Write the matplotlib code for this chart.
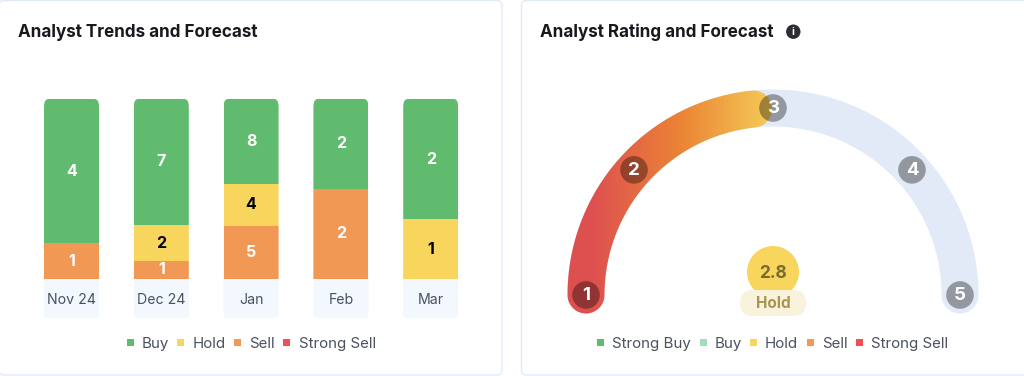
import numpy as np
import matplotlib
matplotlib.use("Agg")
import matplotlib.pyplot as plt
from matplotlib.colors import LinearSegmentedColormap
from matplotlib.patches import Circle, FancyBboxPatch, PathPatch, Rectangle
from matplotlib.path import Path

plt.rcParams['font.family'] = ['Inter', 'DejaVu Sans']

# data
months = ["Nov 24", "Dec 24", "Jan", "Feb", "Mar"]
buy = [4, 7, 8, 2, 2]
hold = [0, 2, 4, 0, 1]
sell = [1, 1, 5, 2, 0]
strong_sell = [0, 0, 0, 0, 0]
trend_legend = ["Buy", "Hold", "Sell", "Strong Sell"]
rating_legend = ["Strong Buy", "Buy", "Hold", "Sell", "Strong Sell"]
rating_steps = [1, 2, 3, 4, 5]
rating_score = 2.8
rating_label = "Hold"

GREEN = "#60BB6E"
LIGHT_GREEN = "#A3DDB8"
YELLOW = "#F8D65E"
ORANGE = "#F29855"
RED = "#EF5055"
TEXT = "#4A5160"
BORDER = "#E3EAF7"

W, H = 1024, 376
fig = plt.figure(figsize=(W / 100, H / 100), dpi=100, facecolor="white")

# page layer in pixel coordinates
bg = fig.add_axes([0, 0, 1, 1])
bg.set_xlim(0, W)
bg.set_ylim(H, 0)
bg.axis("off")


def round_box(ax, x0, y0, x1, y1, r, **kw):
    p = FancyBboxPatch((x0 + r, y0 + r), x1 - x0 - 2 * r, y1 - y0 - 2 * r,
                       boxstyle=f"round,pad={r},rounding_size={r}", **kw)
    ax.add_patch(p)
    return p


# cards
round_box(bg, -1, 0.5, 502, 375, 5, fc="white", ec=BORDER, lw=1)
round_box(bg, 521.5, 0.5, 1040, 375, 5, fc="white", ec=BORDER, lw=1)

bg.text(18, 32.5, "Analyst Trends and Forecast", fontsize=12.25, fontweight="bold",
        color="#17191E", va="center")
bg.text(540, 32.5, "Analyst Rating and Forecast", fontsize=12.25, fontweight="bold",
        color="#17191E", va="center")
bg.add_patch(Circle((793.3, 31.7), 7.2, fc="#2B2D33", ec="none"))
bg.text(793.3, 31.9, "i", fontsize=7.5, fontweight="bold", color="white",
        ha="center", va="center")

# stacked bars, each column scaled to its own total
BAR_LEFT, BAR_W, BAR_PITCH = 44, 55, 89.8
for i in range(len(months)):
    x0 = BAR_LEFT + i * BAR_PITCH
    round_box(bg, x0, 270, x0 + BAR_W, 318, 4, fc="#F3F7FE", ec="none")
    bg.text(x0 + BAR_W / 2, 304.5, months[i], fontsize=10.2, color=TEXT,
            ha="center", va="baseline")

left_px = BAR_LEFT
right_px = BAR_LEFT + 4 * BAR_PITCH + BAR_W
bar_ax = fig.add_axes([left_px / W, 1 - 279 / H, (right_px - left_px) / W, 180 / H])
bar_ax.set_xlim(-BAR_W / BAR_PITCH / 2, 4 + BAR_W / BAR_PITCH / 2)
bar_ax.set_ylim(0, 1)
bar_ax.axis("off")

stack = [(strong_sell, RED, "white"), (sell, ORANGE, "white"),
         (hold, YELLOW, "black"), (buy, GREEN, "white")]
totals = np.sum([s[0] for s in stack], axis=0)
bottom = np.zeros(len(months))
w = BAR_W / BAR_PITCH
clips = []
for i in range(len(months)):
    c = FancyBboxPatch((i - w / 2, -0.2), w, 1.2,
                       boxstyle="round,pad=0,rounding_size=0.05",
                       mutation_aspect=(H / 180) * 0.42, fc="none", ec="none")
    bar_ax.add_patch(c)
    clips.append(c)
for values, color, label_color in stack:
    share = np.array(values) / totals
    bars = bar_ax.bar(range(len(months)), share, w, bottom=bottom, color=color,
                      edgecolor="none")
    for i, b in enumerate(bars):
        b.set_clip_path(clips[i])
        if values[i] > 0:
            bar_ax.text(i, bottom[i] + share[i] / 2, str(values[i]), fontsize=11.5,
                        fontweight="bold", color=label_color, ha="center", va="center")
    bottom += share


def legend(items, colors, squares, texts):
    for name, col, sx, tx in zip(items, colors, squares, texts):
        bg.add_patch(Rectangle((sx, 339), 6.5, 6.5, fc=col, ec="none"))
        bg.text(tx, 348, name, fontsize=10.85, color=TEXT, va="baseline")


legend(trend_legend, [GREEN, YELLOW, ORANGE, RED],
       [127, 177, 234, 283], [142, 193, 249, 299])
legend(rating_legend, [GREEN, LIGHT_GREEN, YELLOW, ORANGE, RED],
       [597, 700, 750, 807, 856], [612.5, 715, 765, 822, 871])

# gauge
CX, CY, R, BAND = 773, 295, 187, 37
marker_degrees = [180, 138, 90, 42, 0]


def rating_angle(v):
    return np.radians(180 - (v - 1) * 45)


def band_path(a0, a1):
    # a0 > a1, angles in radians, closed with a round cap at both ends
    t = np.linspace(a0, a1, 200)
    out = np.c_[CX + (R + BAND / 2) * np.cos(t), CY - (R + BAND / 2) * np.sin(t)]
    inn = np.c_[CX + (R - BAND / 2) * np.cos(t[::-1]), CY - (R - BAND / 2) * np.sin(t[::-1])]
    cap = np.linspace(0, np.pi, 30)
    end1 = np.c_[CX + R * np.cos(a1) + BAND / 2 * np.cos(a1 - cap),
                 CY - R * np.sin(a1) - BAND / 2 * np.sin(a1 - cap)]
    end0 = np.c_[CX + R * np.cos(a0) - BAND / 2 * np.cos(a0 - cap),
                 CY - R * np.sin(a0) + BAND / 2 * np.sin(a0 - cap)]
    return Path(np.vstack([out, end1, inn, end0, out[:1]]))


bg.add_patch(PathPatch(band_path(rating_angle(rating_steps[0]), rating_angle(rating_steps[-1])),
                       fc="#E2E9F7", ec="none"))

filled = PathPatch(band_path(rating_angle(rating_steps[0]), rating_angle(rating_score) - np.radians(3)),
                   fc="none", ec="none")
bg.add_patch(filled)
grad = LinearSegmentedColormap.from_list("gauge", [(0, "#DE5050"), (0.12, "#DE5050"),
                                                   (0.55, "#EB8435"), (1, "#F6CE58")])
im = bg.imshow(np.linspace(0, 1, 256)[None, :], cmap=grad, aspect="auto",
               extent=[566, 775, 320, 85], zorder=2)
im.set_clip_path(filled)
bg.set_xlim(0, W)
bg.set_ylim(H, 0)

for v, deg in zip(rating_steps, marker_degrees):
    a = np.radians(deg)
    px, py = CX + R * np.cos(a), CY - R * np.sin(a)
    bg.add_patch(Circle((px, py), 13.8, fc="black", alpha=0.35, ec="none", zorder=3))
    bg.text(px, py + 0.5, str(v), fontsize=13.5, fontweight="bold", color="white",
            ha="center", va="center", zorder=4)

bg.add_patch(Circle((773, 272), 26, fc=YELLOW, ec="none", zorder=3))
round_box(bg, 740, 290, 806, 316, 13, fc="#F9F2DC", ec="none", zorder=4)
bg.text(773, 273, f"{rating_score}", fontsize=12.5, fontweight="bold", color="#7B6A2E",
        ha="center", va="center", zorder=5)
bg.text(773, 304, rating_label, fontsize=11, fontweight="bold", color="#A8954E",
        ha="center", va="center", zorder=5)

fig.savefig("out.png", dpi=100)
